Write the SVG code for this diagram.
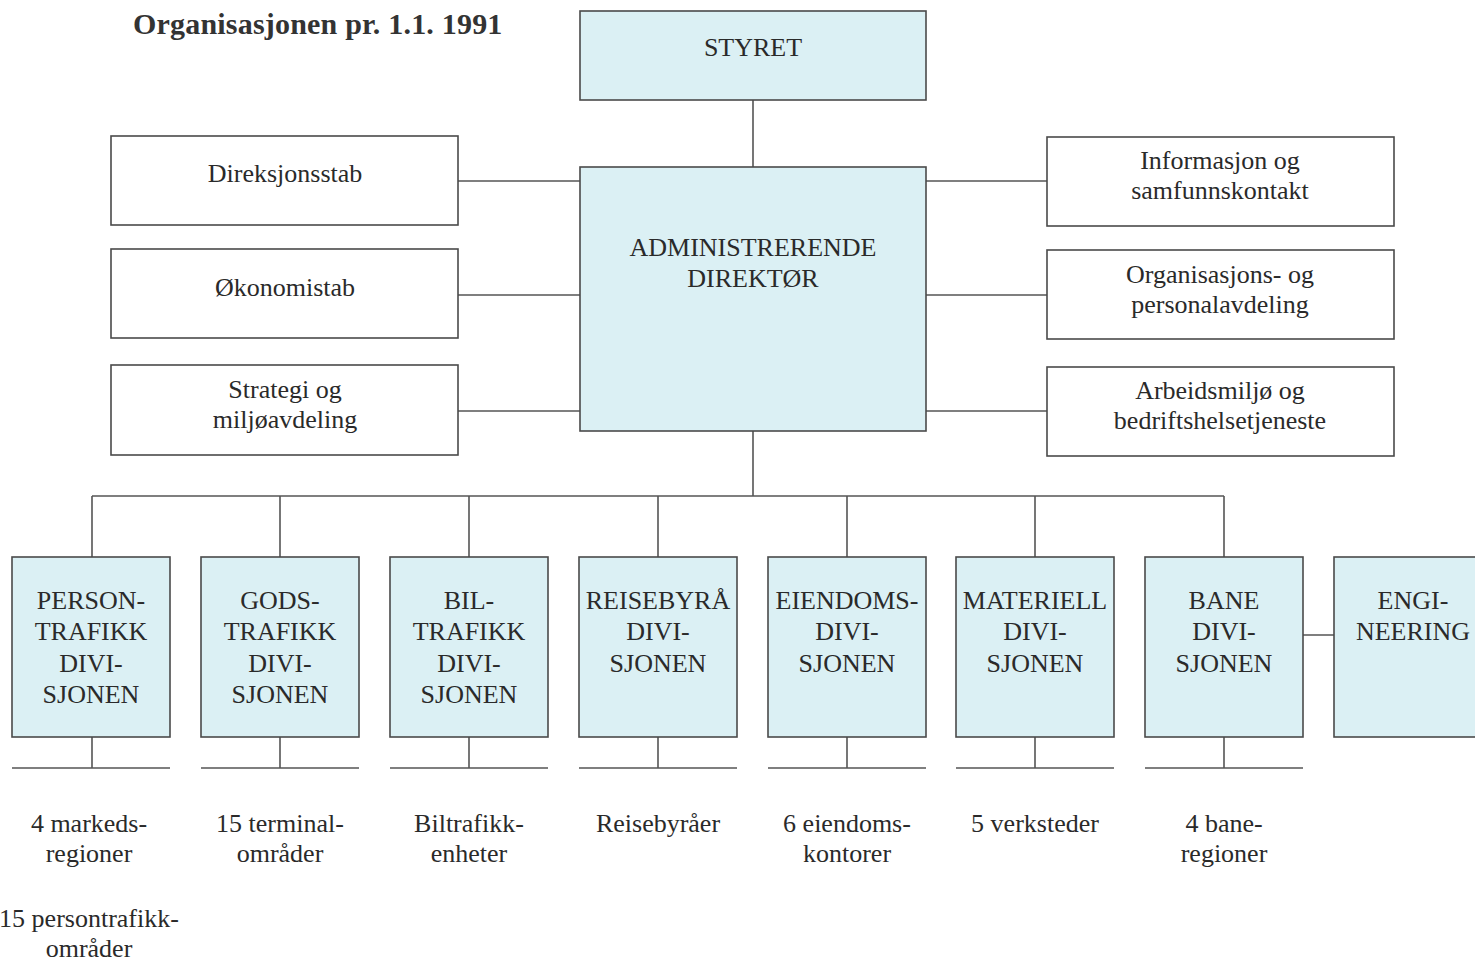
<svg xmlns="http://www.w3.org/2000/svg" width="1475" height="961" viewBox="0 0 1475 961">
<style>
.b{fill:#dbf0f4;stroke:#4a4a4a;stroke-width:1.6}
.w{fill:#fff;stroke:#4a4a4a;stroke-width:1.6}
.c{fill:none;stroke:#555;stroke-width:1.6}
text{font-family:"Liberation Serif","Times New Roman",serif;font-size:26px;fill:#2a2a2a;text-anchor:middle}
.t{font-size:30px;font-weight:bold;text-anchor:start;fill:#333;letter-spacing:0.2px}
</style>
<rect width="1475" height="961" fill="#fff"/>
<text class="t" x="133" y="34">Organisasjonen pr. 1.1. 1991</text>
<g id="connectors">
<path class="c" d="M753 100V167M753 431V496M92 496H1224M92 496V557M280 496V557M469 496V557M658 496V557M847 496V557M1035 496V557M1224 496V557"/>
<path class="c" d="M458 181H580M458 295H580M458 411H580M926 181H1047M926 295H1047M926 411H1047M1303 635H1334"/>
<path class="c" d="M92 737V768M12 768H170M280 737V768M201 768H359M469 737V768M390 768H548M658 737V768M579 768H737M847 737V768M768 768H926M1035 737V768M956 768H1114M1224 737V768M1145 768H1303"/>
</g>
<g id="styret"><rect class="b" x="580" y="11" width="346" height="89"/><text x="753" y="56">STYRET</text></g>
<g id="adm"><rect class="b" x="580" y="167" width="346" height="264"/><text x="753" y="256">ADMINISTRERENDE</text><text x="753" y="287">DIREKTØR</text></g>
<g id="direksjonsstab"><rect class="w" x="111" y="136" width="347" height="89"/><text x="285" y="182">Direksjonsstab</text></g>
<g id="okonomistab"><rect class="w" x="111" y="249" width="347" height="89"/><text x="285" y="296">Økonomistab</text></g>
<g id="strategi"><rect class="w" x="111" y="365" width="347" height="90"/><text x="285" y="398">Strategi og</text><text x="285" y="428">miljøavdeling</text></g>
<g id="informasjon"><rect class="w" x="1047" y="137" width="347" height="89"/><text x="1220" y="169">Informasjon og</text><text x="1220" y="199">samfunnskontakt</text></g>
<g id="organisasjon"><rect class="w" x="1047" y="250" width="347" height="89"/><text x="1220" y="283">Organisasjons- og</text><text x="1220" y="313">personalavdeling</text></g>
<g id="arbeidsmiljo"><rect class="w" x="1047" y="367" width="347" height="89"/><text x="1220" y="399">Arbeidsmiljø og</text><text x="1220" y="429">bedriftshelsetjeneste</text></g>
<g id="person"><rect class="b" x="12" y="557" width="158" height="180"/><text x="91" y="609">PERSON-</text><text x="91" y="640">TRAFIKK</text><text x="91" y="672">DIVI-</text><text x="91" y="703">SJONEN</text></g>
<g id="gods"><rect class="b" x="201" y="557" width="158" height="180"/><text x="280" y="609">GODS-</text><text x="280" y="640">TRAFIKK</text><text x="280" y="672">DIVI-</text><text x="280" y="703">SJONEN</text></g>
<g id="bil"><rect class="b" x="390" y="557" width="158" height="180"/><text x="469" y="609">BIL-</text><text x="469" y="640">TRAFIKK</text><text x="469" y="672">DIVI-</text><text x="469" y="703">SJONEN</text></g>
<g id="reisebyra"><rect class="b" x="579" y="557" width="158" height="180"/><text x="658" y="609">REISEBYRÅ</text><text x="658" y="640">DIVI-</text><text x="658" y="672">SJONEN</text></g>
<g id="eiendoms"><rect class="b" x="768" y="557" width="158" height="180"/><text x="847" y="609">EIENDOMS-</text><text x="847" y="640">DIVI-</text><text x="847" y="672">SJONEN</text></g>
<g id="materiell"><rect class="b" x="956" y="557" width="158" height="180"/><text x="1035" y="609">MATERIELL</text><text x="1035" y="640">DIVI-</text><text x="1035" y="672">SJONEN</text></g>
<g id="bane"><rect class="b" x="1145" y="557" width="158" height="180"/><text x="1224" y="609">BANE</text><text x="1224" y="640">DIVI-</text><text x="1224" y="672">SJONEN</text></g>
<g id="engineering"><rect class="b" x="1334" y="557" width="160" height="180"/><text x="1413" y="609">ENGI-</text><text x="1413" y="640">NEERING</text></g>
<g id="labels">
<text x="89" y="832">4 markeds-</text><text x="89" y="862">regioner</text>
<text x="89" y="927">15 persontrafikk-</text><text x="89" y="957">områder</text>
<text x="280" y="832">15 terminal-</text><text x="280" y="862">områder</text>
<text x="469" y="832">Biltrafikk-</text><text x="469" y="862">enheter</text>
<text x="658" y="832">Reisebyråer</text>
<text x="847" y="832">6 eiendoms-</text><text x="847" y="862">kontorer</text>
<text x="1035" y="832">5 verksteder</text>
<text x="1224" y="832">4 bane-</text><text x="1224" y="862">regioner</text>
</g>
</svg>
